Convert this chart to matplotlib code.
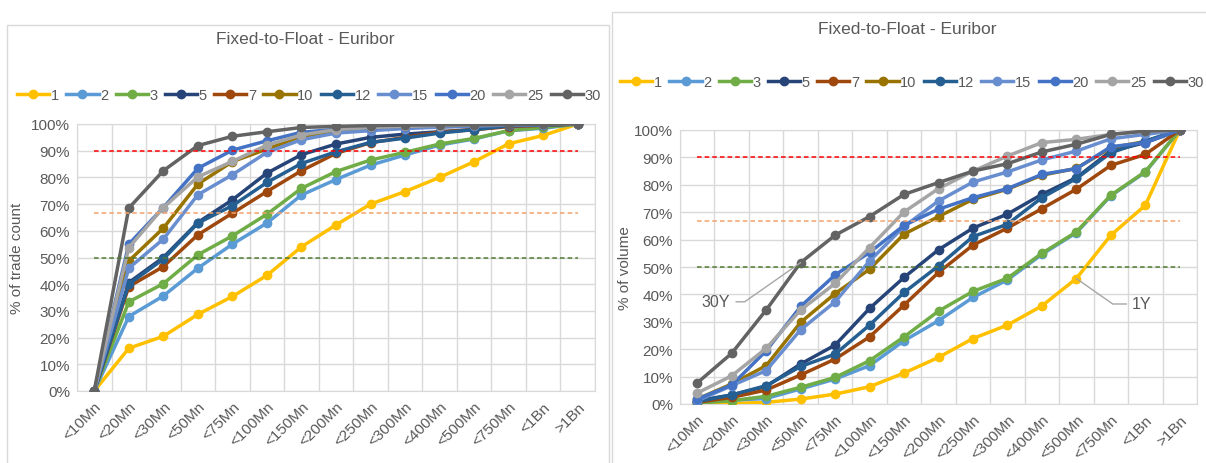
import numpy as np
import matplotlib
matplotlib.use("Agg")
import matplotlib.pyplot as plt
from matplotlib.patches import Rectangle

plt.rcParams['font.family'] = ['Liberation Sans', 'DejaVu Sans']

# size buckets on the x axis
buckets = ['<10Mn', '<20Mn', '<30Mn', '<50Mn', '<75Mn', '<100Mn', '<150Mn', '<200Mn',
           '<250Mn', '<300Mn', '<400Mn', '<500Mn', '<750Mn', '<1Bn', '>1Bn']
tenors = ['1', '2', '3', '5', '7', '10', '12', '15', '20', '25', '30']
colors = ['#FFC000', '#5B9BD5', '#70AD47', '#264478', '#9E480E', '#997300',
          '#255E91', '#698ED0', '#4472C4', '#A5A5A5', '#636363']

# cumulative % of trade count by tenor
cnt_1y = [0, 16.0, 20.5, 28.7, 35.4, 43.3, 54.0, 62.2, 70.0, 74.7, 80.0, 85.9, 92.6, 95.7, 100]
cnt_2y = [0, 27.9, 35.6, 46.0, 55.0, 62.9, 73.4, 79.2, 84.6, 88.4, 92.1, 94.4, 97.5, 98.4, 100]
cnt_3y = [0, 33.4, 40.2, 51.0, 58.1, 66.2, 75.9, 82.2, 86.5, 89.4, 92.5, 94.6, 97.5, 98.7, 100]
cnt_5y = [0, 40.6, 50.0, 63.1, 71.6, 81.6, 88.5, 92.5, 95.0, 96.2, 97.1, 97.9, 99.4, 99.6, 100]
cnt_7y = [0, 39.1, 46.6, 58.5, 66.6, 74.7, 82.5, 89.0, 93.0, 95.0, 97.0, 97.9, 99.0, 99.5, 100]
cnt_10y = [0, 48.7, 61.0, 77.5, 85.9, 90.6, 95.4, 97.1, 98.0, 98.6, 99.0, 99.3, 99.6, 99.8, 100]
cnt_12y = [0, 40.0, 49.4, 62.9, 69.4, 78.1, 85.2, 89.6, 93.1, 94.7, 96.6, 97.9, 99.3, 99.6, 100]
cnt_15y = [0, 46.0, 56.9, 73.5, 81.0, 89.4, 94.1, 96.6, 97.5, 98.3, 98.8, 99.2, 99.6, 99.8, 100]
cnt_20y = [0, 55.0, 68.7, 83.4, 90.2, 93.7, 96.9, 98.0, 98.6, 99.0, 99.3, 99.5, 99.7, 99.9, 100]
cnt_25y = [0, 53.7, 68.7, 80.2, 86.0, 92.1, 95.9, 97.9, 98.7, 99.1, 99.4, 99.6, 99.8, 99.9, 100]
cnt_30y = [0, 68.5, 82.5, 91.9, 95.4, 97.1, 98.7, 99.1, 99.4, 99.6, 99.7, 99.7, 99.8, 99.9, 100]

# cumulative % of volume by tenor
vol_1y = [0.2, 0.2, 0.6, 1.8, 3.6, 6.3, 11.3, 17.0, 23.9, 28.8, 35.8, 45.8, 61.6, 72.5, 100]
vol_2y = [0.6, 1.4, 2.0, 5.5, 9.1, 14.0, 23.1, 30.4, 38.9, 45.3, 54.6, 62.5, 76.0, 84.6, 100]
vol_3y = [0.3, 1.2, 2.8, 6.1, 9.7, 15.8, 24.5, 33.9, 41.1, 45.9, 55.0, 62.8, 76.2, 84.8, 100]
vol_5y = [1.2, 3.3, 6.4, 14.6, 21.5, 34.9, 46.2, 56.3, 64.2, 69.3, 76.5, 82.6, 92.3, 95.4, 100]
vol_7y = [0.6, 2.4, 5.1, 10.6, 16.4, 24.5, 36.1, 48.0, 58.0, 64.2, 71.3, 78.4, 87.1, 91.1, 100]
vol_10y = [1.8, 7.3, 14.0, 29.8, 40.3, 49.2, 62.0, 68.4, 74.7, 78.4, 83.5, 86.0, 93.5, 95.8, 100]
vol_12y = [0.9, 3.3, 6.7, 13.7, 18.2, 28.8, 40.7, 50.4, 61.1, 65.6, 75.3, 82.3, 91.7, 96.0, 100]
vol_15y = [1.2, 6.7, 12.2, 27.1, 37.3, 52.2, 64.8, 74.1, 81.0, 84.7, 89.1, 92.3, 96.8, 98.4, 100]
vol_20y = [1.8, 6.9, 19.4, 35.6, 47.1, 55.3, 65.2, 71.1, 75.3, 78.6, 83.8, 85.9, 93.9, 95.4, 100]
vol_25y = [4.0, 10.3, 20.3, 34.3, 44.0, 57.1, 70.1, 78.6, 85.0, 90.5, 95.4, 96.6, 98.4, 99.5, 100]
vol_30y = [7.7, 18.5, 34.3, 51.6, 61.6, 68.4, 76.5, 80.8, 85.0, 87.7, 92.0, 94.8, 98.4, 99.6, 100]

counts = [cnt_1y, cnt_2y, cnt_3y, cnt_5y, cnt_7y, cnt_10y, cnt_12y, cnt_15y, cnt_20y, cnt_25y, cnt_30y]
volumes = [vol_1y, vol_2y, vol_3y, vol_5y, vol_7y, vol_10y, vol_12y, vol_15y, vol_20y, vol_25y, vol_30y]

# threshold lines (90%, two thirds, 50%)
levels = [90, 66.7, 50]
level_colors = ['#FF0000', '#F4A26A', '#4F7A33']

txt = '#595959'
grid_c = '#D9D9D9'

fig = plt.figure(figsize=(12.06, 4.64), dpi=100)
W, H = 1206, 464

# chart borders
fig.patches.append(Rectangle((7 / W, -0.1), 602 / W, (H - 26) / H + 0.1,
                             transform=fig.transFigure, fill=False, ec=grid_c, lw=1))
fig.patches.append(Rectangle((612 / W, -0.1), 600 / W, (H - 13) / H + 0.1,
                             transform=fig.transFigure, fill=False, ec=grid_c, lw=1))

ax1 = fig.add_axes([77 / W, (H - 392) / H, 518 / W, 267 / H])
ax2 = fig.add_axes([680 / W, (H - 405) / H, 517 / W, 274 / H])

x = np.arange(len(buckets))


def draw(ax, series, ylabel):
    for vals, c, t in zip(series, colors, tenors):
        ax.plot(x, vals, color=c, lw=2.5, marker='o', ms=6, label=t, zorder=3)
    for lv, c in zip(levels, level_colors):
        ax.plot(x, [lv] * len(x), color=c, lw=1.1, ls=(0, (3, 2)), zorder=4)
    ax.set_xlim(-0.5, len(buckets) - 0.5)
    ax.set_ylim(0, 100)
    ax.set_yticks(np.arange(0, 101, 10))
    ax.set_yticklabels([f'{v}%' for v in range(0, 101, 10)])
    ax.set_xticks(x)
    ax.set_xticklabels(buckets, rotation=45, ha='right', rotation_mode='anchor')
    ax.set_xticks(np.arange(-0.5, len(buckets)), minor=True)
    ax.grid(True, which='minor', axis='x', color=grid_c, lw=1)
    ax.grid(True, which='major', axis='y', color=grid_c, lw=1)
    ax.set_axisbelow(True)
    ax.tick_params(which='both', length=0, colors=txt, labelsize=11)
    ax.tick_params(axis='x', pad=6)
    ax.tick_params(axis='y', pad=5)
    for s in ax.spines.values():
        s.set_color(grid_c)
    ax.set_ylabel(ylabel, color=txt, fontsize=11)


draw(ax1, counts, '% of trade count')
draw(ax2, volumes, '% of volume')
ax1.yaxis.set_label_coords(-0.102, 0.5)
ax2.yaxis.set_label_coords(-0.092, 0.5)

fig.text(305 / W, 1 - 40 / H, 'Fixed-to-Float - Euribor', ha='center', va='center',
         color=txt, fontsize=12.5)
fig.text(907 / W, 1 - 30 / H, 'Fixed-to-Float - Euribor', ha='center', va='center',
         color=txt, fontsize=12.5)

h1, l1 = ax1.get_legend_handles_labels()
leg_kw = dict(loc='center', ncol=11, frameon=False, fontsize=10.5, handlelength=2.2,
              handletextpad=0.12, columnspacing=0.5, labelcolor=txt)
fig.legend(h1[:11], l1[:11], bbox_to_anchor=(309 / W, 1 - 96 / H), **leg_kw)
fig.legend(h1[:11], l1[:11], bbox_to_anchor=(912 / W, 1 - 83 / H), **leg_kw)

# tenor call-outs on the volume chart
ax2.annotate('30Y', xy=(3, vol_30y[3]), xytext=(0.55, 37.3), color=txt, fontsize=11.5,
             ha='center', va='center',
             arrowprops=dict(arrowstyle='-', color='#A6A6A6', lw=1,
                             connectionstyle='angle,angleA=0,angleB=35,rad=0',
                             shrinkA=2, shrinkB=0))
ax2.annotate('1Y', xy=(11, vol_1y[11]), xytext=(12.9, 36.5), color=txt, fontsize=11.5,
             ha='center', va='center',
             arrowprops=dict(arrowstyle='-', color='#A6A6A6', lw=1,
                             connectionstyle='angle,angleA=180,angleB=-35,rad=0',
                             shrinkA=2, shrinkB=0))

fig.savefig('out.png', dpi=100)
